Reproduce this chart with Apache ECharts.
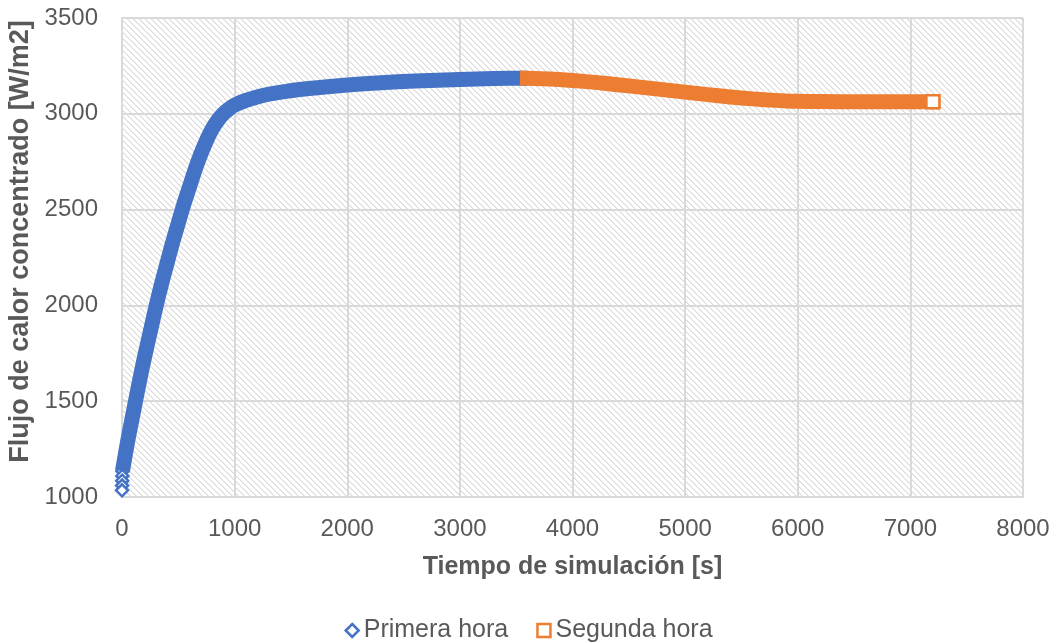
<!DOCTYPE html>
<html>
<head>
<meta charset="utf-8">
<script src="https://cdn.jsdelivr.net/npm/echarts@6/dist/echarts.min.js"></script>
<style>
html,body{margin:0;padding:0;background:#fff;}
#chart{width:1057px;height:643px;}
</style>
</head>
<body>
<div id="chart"></div>
<script>
// ---- Data ----
const seriesNames = ['Primera hora', 'Segunda hora'];
const xTicks = [0, 1000, 2000, 3000, 4000, 5000, 6000, 7000, 8000];
const yTicks = [1000, 1500, 2000, 2500, 3000, 3500];

// Primera hora: first samples (separately visible markers) then the dense band
const timeFirst = [0, 1, 2, 3, 4, 50, 100, 150, 200, 250, 300, 350, 400, 450, 500, 550, 600, 650, 700, 750, 800, 850, 900, 950, 1000, 1100, 1200, 1300, 1400, 1600, 1800, 2000, 2300, 2600, 3000, 3300, 3600];
const fluxFirst = [1035, 1060, 1085, 1110, 1135, 1290, 1440, 1590, 1730, 1860, 1990, 2110, 2220, 2330, 2430, 2530, 2620, 2710, 2790, 2860, 2920, 2965, 3000, 3025, 3045, 3070, 3088, 3102, 3112, 3128, 3140, 3150, 3162, 3171, 3179, 3184, 3186];

// Segunda hora
const timeSecond = [3600, 3800, 4000, 4200, 4400, 4600, 4800, 5000, 5200, 5400, 5600, 5800, 5900, 6000, 6200, 6500, 7000, 7200];
const fluxSecond = [3186, 3182, 3174, 3164, 3152, 3139, 3126, 3113, 3100, 3088, 3078, 3070, 3067, 3065, 3064, 3063, 3063, 3063];

const BLUE = '#4472C4';
const ORANGE = '#ED7D31';
const SEP = 4; // number of early, individually visible samples

const pts1 = timeFirst.map((t, i) => [t, fluxFirst[i]]);
const pts2 = timeSecond.map((t, i) => [t, fluxSecond[i]]);

// hatch pattern for plot area
const tile = document.createElement('canvas');
tile.width = 6; tile.height = 6;
const c = tile.getContext('2d');
c.fillStyle = '#ffffff'; c.fillRect(0, 0, 6, 6);
for (let i = 0; i < 6; i++) {
  c.fillStyle = '#dadada'; c.fillRect(i, i, 1, 1);
  c.fillStyle = '#ededed'; c.fillRect((i + 1) % 6, i, 1, 1);
}

const chart = echarts.init(document.getElementById('chart'), null, {renderer: 'canvas'});
const txt = '#595959';
const font = '"Liberation Sans", Arial, sans-serif';
const plain = v => String(v);

chart.setOption({
  animation: false,
  backgroundColor: '#ffffff',
  grid: {
    left: 122, right: 34, top: 18, bottom: 146,
    containLabel: false,
    outerBoundsMode: 'none',
    show: true,
    backgroundColor: {image: tile, repeat: 'repeat'},
    borderWidth: 0
  },
  legend: {
    top: 613,
    left: 'center',
    itemWidth: 13, itemHeight: 13, itemGap: 28,
    textStyle: {color: txt, fontSize: 25, fontFamily: font},
    data: [
      {name: seriesNames[0], icon: 'diamond', itemStyle: {color: '#fff', borderColor: BLUE, borderWidth: 2.5}},
      {name: seriesNames[1], icon: 'rect', itemStyle: {color: '#fff', borderColor: ORANGE, borderWidth: 2.5}}
    ]
  },
  xAxis: {
    type: 'value', min: xTicks[0], max: xTicks[xTicks.length - 1], interval: 1000,
    name: 'Tiempo de simulación [s]',
    nameLocation: 'middle', nameGap: 58,
    nameTextStyle: {color: txt, fontSize: 25, fontWeight: 'bold', fontFamily: font},
    axisLine: {show: true, lineStyle: {color: '#d9d9d9', width: 2}},
    axisTick: {show: false},
    axisLabel: {color: txt, fontSize: 24, fontFamily: font, margin: 20, formatter: plain},
    splitLine: {show: true, lineStyle: {color: '#d9d9d9', width: 2}}
  },
  yAxis: {
    type: 'value', min: yTicks[0], max: yTicks[yTicks.length - 1], interval: 500,
    name: 'Flujo de calor concentrado [W/m2]',
    nameLocation: 'middle', nameGap: 82,
    nameTextStyle: {color: txt, fontSize: 27, fontWeight: 'bold', fontFamily: font, padding: [0, 0, 0, 32]},
    axisLine: {show: true, lineStyle: {color: '#d9d9d9', width: 2}},
    axisTick: {show: false},
    axisLabel: {color: txt, fontSize: 24, fontFamily: font, margin: 24, formatter: plain},
    splitLine: {show: true, lineStyle: {color: '#d9d9d9', width: 2}}
  },
  series: [
    {
      name: seriesNames[0], type: 'line',
      data: pts1.slice(SEP),
      showSymbol: false, smooth: 0.3,
      lineStyle: {color: BLUE, width: 15, cap: 'butt', join: 'round'},
      itemStyle: {color: BLUE},
      z: 3
    },
    {
      name: seriesNames[0], type: 'scatter',
      data: pts1.slice(0, SEP + 1).reverse(),
      symbol: 'diamond', symbolSize: 12,
      itemStyle: {color: '#fff', borderColor: BLUE, borderWidth: 2.5, opacity: 1},
      z: 2
    },
    {
      name: seriesNames[1], type: 'line',
      data: pts2.map((p, i) => i === pts2.length - 1 ? {value: p, symbol: 'rect', symbolSize: 13} : {value: p, symbol: 'none'}),
      showSymbol: true, showAllSymbol: true, smooth: 0.3,
      lineStyle: {color: ORANGE, width: 15, cap: 'square', join: 'round'},
      itemStyle: {color: '#fff', borderColor: ORANGE, borderWidth: 2.5},
      z: 4
    }
  ]
});
</script>
</body>
</html>
